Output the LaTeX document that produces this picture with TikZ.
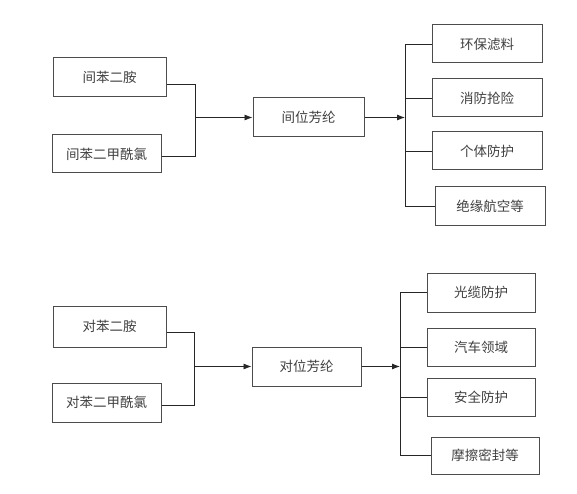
\documentclass[tikz,border=0pt]{standalone}
\usepackage{fontspec}
\newfontfamily\cjk{Noto Sans CJK SC}
\usetikzlibrary{arrows.meta}
\tikzset{
	itembox/.style={draw=black!70, line width=1pt, rectangle, inner sep=0pt, text=black!75, font=\cjk\fontsize{13.5}{15}\selectfont},
	wire/.style={line width=0.8pt, black!85},
	feed/.style={wire, -{Latex[length=8pt,width=6pt]}}
}
\begin{document}
\begin{tikzpicture}[x=1pt, y=-1pt]
				\useasboundingbox (0,0) rectangle (577,494);
				
				% meta
				\node[itembox, minimum width=113pt, minimum height=39pt] (ma) at (109.5,77.5) {间苯二胺};
				\node[itembox, minimum width=109pt, minimum height=38pt] (mc) at (106.5,154) {间苯二甲酰氯};
				\node[itembox, minimum width=111pt, minimum height=39pt] (mf) at (308.5,117.5) {间位芳纶};
				\node[itembox, minimum width=110pt, minimum height=38pt] (m1) at (487,44) {环保滤料};
				\node[itembox, minimum width=110pt, minimum height=38pt] (m2) at (487,98) {消防抢险};
				\node[itembox, minimum width=110pt, minimum height=38pt] (m3) at (487,151) {个体防护};
				\node[itembox, minimum width=110pt, minimum height=38pt] (m4) at (490,206) {绝缘航空等};
				
				\coordinate (mj) at (195,117.5);
				\coordinate (ms) at (405,117.5);
				\draw[wire] (ma.east |- 0,84) -- (195,84) -- (195,156) -- (mc.east |- 0,156);
				\draw[feed] (mj) -- (mf.west);
				\draw[feed] (mf.east) -- (ms);
				\draw[wire] (m1.west) -- (m1.west -| ms) -- (m4.west -| ms) -- (m4.west);
				\foreach \k in {m2,m3}
					\draw[wire] (\k.west) -- (\k.west -| ms);
				
				% para
				\node[itembox, minimum width=113pt, minimum height=41pt] (pa) at (109.5,326.5) {对苯二胺};
				\node[itembox, minimum width=109pt, minimum height=39pt] (pc) at (106.5,402.5) {对苯二甲酰氯};
				\node[itembox, minimum width=109pt, minimum height=39pt] (pf) at (306.5,366.5) {对位芳纶};
				\node[itembox, minimum width=108pt, minimum height=39pt] (p1) at (481,292.5) {光缆防护};
				\node[itembox, minimum width=108pt, minimum height=38pt] (p2) at (481,347) {汽车领域};
				\node[itembox, minimum width=108pt, minimum height=38pt] (p3) at (481,397) {安全防护};
				\node[itembox, minimum width=108pt, minimum height=37pt] (p4) at (485,455.5) {摩擦密封等};
				
				\coordinate (pj) at (194,366.5);
				\coordinate (ps) at (400,366.5);
				\draw[wire] (pa.east |- 0,332) -- (194,332) -- (194,405) -- (pc.east |- 0,405);
				\draw[feed] (pj) -- (pf.west);
				\draw[feed] (pf.east) -- (ps);
				\draw[wire] (p1.west) -- (p1.west -| ps) -- (p4.west -| ps) -- (p4.west);
				\foreach \k in {p2,p3}
					\draw[wire] (\k.west) -- (\k.west -| ps);
			\end{tikzpicture}
\end{document}
